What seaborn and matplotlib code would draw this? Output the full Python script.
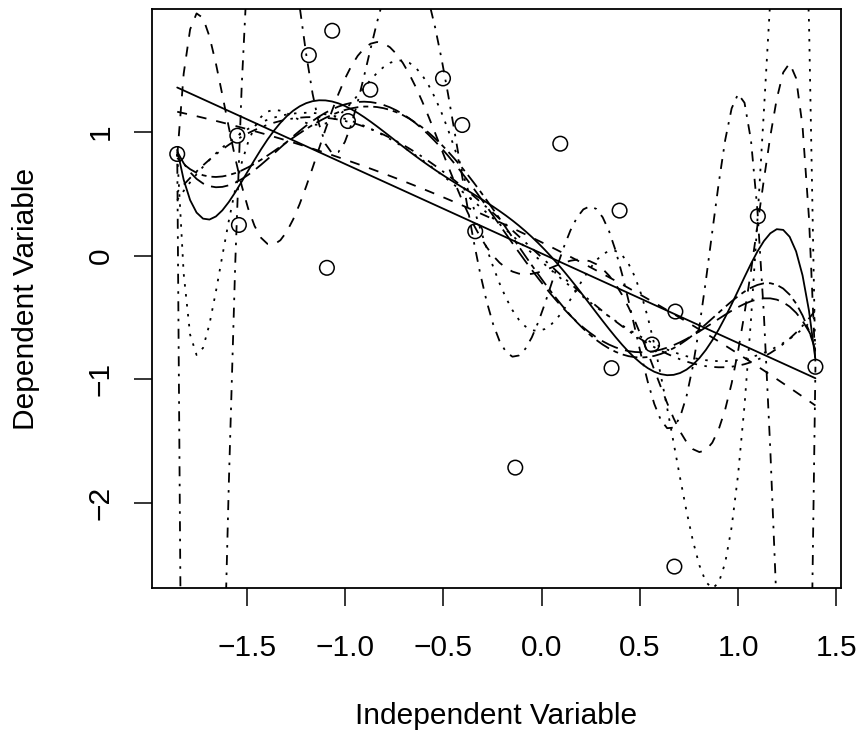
import numpy as np
import pandas as pd
import matplotlib
matplotlib.use("Agg")
import matplotlib.pyplot as plt
import seaborn as sns

# data points
x_vals = [-1.855, -1.549, -1.541, -1.185, -1.066, -1.093, -0.872, -0.986, -0.502, -0.404,
          -0.338, 0.095, 0.397, 1.101, 0.681, 0.562, 0.356, 1.394, -0.134, 0.676]
y_vals = [0.820, 0.968, 0.247, 1.618, 1.815, -0.099, 1.339, 1.086, 1.430, 1.054,
          0.196, 0.903, 0.363, 0.317, -0.452, -0.718, -0.909, -0.898, -1.712, -2.511]

# polynomial degrees fitted, R lty cycles 1..6
degrees = list(range(1, 11))

sns.set_theme(style="white")
plt.rcParams['font.family'] = ['Liberation Sans', 'DejaVu Sans']
plt.rcParams['lines.scale_dashes'] = False

u = 1.8
lty = {
    1: '-',
    2: (0, (4 * u, 4 * u)),
    3: (0, (1 * u, 3 * u)),
    4: (0, (1 * u, 3 * u, 4 * u, 3 * u)),
    5: (0, (7 * u, 3 * u)),
    6: (0, (2 * u, 2 * u, 6 * u, 2 * u)),
}

df = pd.DataFrame({'x': x_vals, 'y': y_vals})

fig = plt.figure(figsize=(8.59, 7.39), dpi=100)
ax = fig.add_axes([0.1766, 0.2043, 0.8024, 0.7831])

sns.scatterplot(data=df, x='x', y='y', ax=ax, marker='o', s=110,
                facecolor='none', edgecolor='black', linewidth=1.1, zorder=3)

for d in degrees:
    style = lty[(d - 1) % 6 + 1]
    sns.regplot(data=df, x='x', y='y', order=d, ci=None, scatter=False, ax=ax,
                line_kws={'color': 'black', 'linewidth': 1.3, 'linestyle': style})

xr = df['x'].max() - df['x'].min()
yr = df['y'].max() - df['y'].min()
ax.set_xlim(df['x'].min() - 0.04 * xr, df['x'].max() + 0.04 * xr)
ax.set_ylim(df['y'].min() - 0.04 * yr, df['y'].max() + 0.04 * yr)

fs = 21.5
ax.set_xticks([-1.5, -1.0, -0.5, 0.0, 0.5, 1.0, 1.5])
ax.set_xticklabels(['\u22121.5', '\u22121.0', '\u22120.5', '0.0', '0.5', '1.0', '1.5'])
ax.set_yticks([-2, -1, 0, 1])
ax.set_yticklabels(['\u22122', '\u22121', '0', '1'], rotation=90, va='center')

ax.tick_params(axis='both', direction='out', length=13, width=1.1, color='black',
               labelsize=fs, bottom=True, left=True, labelcolor='black')
ax.tick_params(axis='x', pad=20)
ax.tick_params(axis='y', pad=13.5)
for sp in ax.spines.values():
    sp.set_color('black')
    sp.set_linewidth(1.3)

ax.set_xlabel('Independent Variable', fontsize=fs, labelpad=29, color='black')
ax.set_ylabel('Dependent Variable', fontsize=fs, labelpad=34, color='black')
ax.grid(False)

fig.savefig('out.png', dpi=100)
